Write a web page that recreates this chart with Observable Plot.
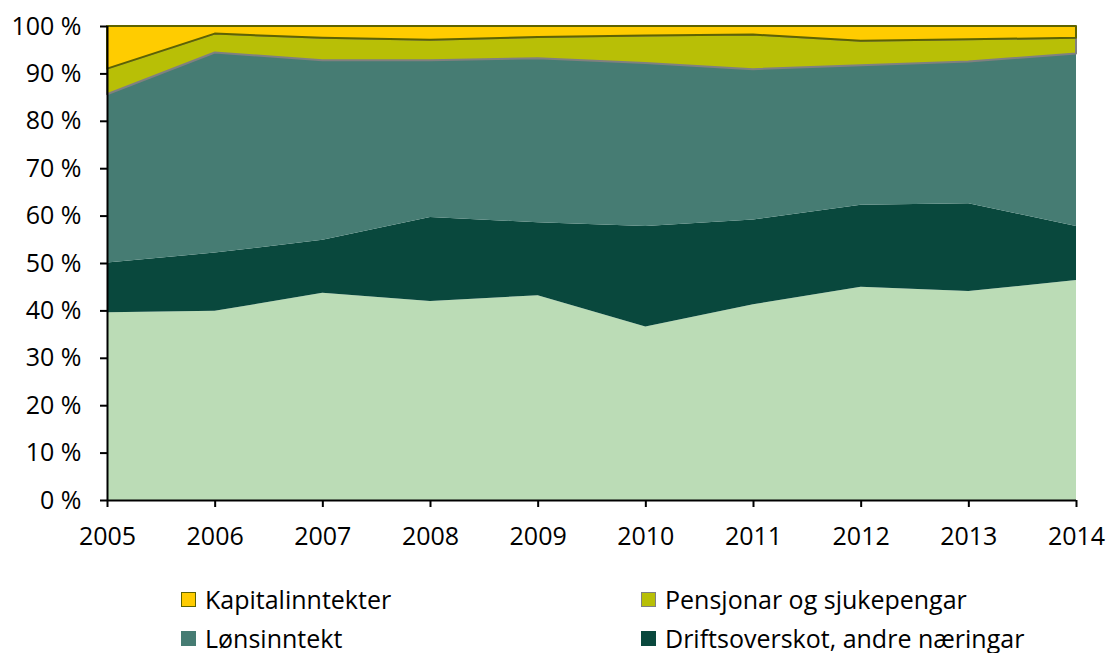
<!DOCTYPE html>
<html>
<head>
<meta charset="utf-8">
<script src="https://cdn.jsdelivr.net/npm/d3@7"></script>
<script src="https://cdn.jsdelivr.net/npm/@observablehq/plot@0.6"></script>
<style>
  html, body { margin: 0; padding: 0; background: #fff; }
  body { width: 1110px; height: 653px; overflow: hidden; font-family: "Open Sans", sans-serif; }
  #legend { margin-top: 20px; padding-left: 181px; display: flex; flex-wrap: wrap; width: 929px; }
  .item { width: 460px; height: 39px; line-height: 39px; display: flex; align-items: center; font-size: 25px; color: #000; }
  .sw { width: 13px; height: 13px; margin-right: 9px; box-sizing: content-box; }
</style>
</head>
<body>
<div id="chart"></div>
<div id="legend"></div>
<script>
const years = [2005, 2006, 2007, 2008, 2009, 2010, 2011, 2012, 2013, 2014];
const yTicks = [0, 10, 20, 30, 40, 50, 60, 70, 80, 90, 100];

// Shares (%) per year, bottom layer first
const jordbruk   = [39.6, 39.9, 43.7, 42.0, 43.2, 36.6, 41.3, 45.0, 44.1, 46.4];
const andre      = [10.5, 12.3, 11.2, 17.7, 15.4, 21.2, 17.9, 17.3, 18.5, 11.4];
const lonn       = [35.5, 42.2, 37.9, 33.1, 34.6, 34.4, 31.7, 29.4, 29.9, 36.4];
const pensjon    = [5.4, 4.0, 4.7, 4.3, 4.5, 5.8, 7.3, 5.2, 4.7, 3.3];
const kapital    = [9.0, 1.6, 2.5, 2.9, 2.3, 2.0, 1.8, 3.1, 2.8, 2.5];

const seriesNames = ["Driftsoverskot, jordbruk", "Driftsoverskot, andre næringar", "Lønsinntekt", "Pensjonar og sjukepengar", "Kapitalinntekter"];
const seriesValues = [jordbruk, andre, lonn, pensjon, kapital];
const fillColors = ["#BBDCB6", "#09483D", "#467C73", "#B8BF06", "#FFCC00"];
const strokeColors = ["none", "none", "none", "#808080", "#5E6300"];

const legendOrder = ["Kapitalinntekter", "Pensjonar og sjukepengar", "Lønsinntekt", "Driftsoverskot, andre næringar"];

const data = seriesNames.flatMap((name, i) =>
  years.map((yr, j) => ({year: yr, series: name, value: seriesValues[i][j]}))
);
const fillOf = Object.fromEntries(seriesNames.map((n, i) => [n, fillColors[i]]));
const strokeOf = Object.fromEntries(seriesNames.map((n, i) => [n, strokeColors[i]]));

const chart = Plot.plot({
  width: 1110,
  height: 560,
  marginLeft: 107,
  marginRight: 34,
  marginTop: 26,
  marginBottom: 60,
  style: {fontFamily: "'Open Sans', sans-serif", fontSize: "25px", color: "#000", background: "#fff"},
  x: {type: "linear", domain: [2005, 2014]},
  y: {domain: [0, 100]},
  color: {type: "identity"},
  marks: [
    Plot.areaY(data, {
      x: "year", y: "value", z: "series", order: seriesNames,
      fill: d => fillOf[d.series],
      stroke: d => strokeOf[d.series],
      strokeWidth: 2
    }),
    Plot.ruleX([2005], {stroke: "#000", strokeWidth: 2}),
    Plot.ruleY([0], {stroke: "#000", strokeWidth: 2}),
    Plot.axisY({ticks: yTicks, tickFormat: d => d + " %", tickSize: 7, tickPadding: 19, strokeWidth: 2, color: "#000", label: null, fontSize: 25}),
    Plot.axisX({ticks: years, tickFormat: d => String(d), tickSize: 7, tickPadding: 20, strokeWidth: 2, color: "#000", label: null, fontSize: 25})
  ]
});
document.getElementById("chart").appendChild(chart);

const legend = document.getElementById("legend");
legendOrder.forEach(name => {
  const i = seriesNames.indexOf(name);
  const item = document.createElement("div");
  item.className = "item";
  const sw = document.createElement("span");
  sw.className = "sw";
  sw.style.background = fillColors[i];
  sw.style.border = "1.5px solid " + (strokeColors[i] === "none" ? fillColors[i] : strokeColors[i]);
  const label = document.createElement("span");
  label.textContent = name;
  item.appendChild(sw);
  item.appendChild(label);
  legend.appendChild(item);
});
</script>
</body>
</html>
